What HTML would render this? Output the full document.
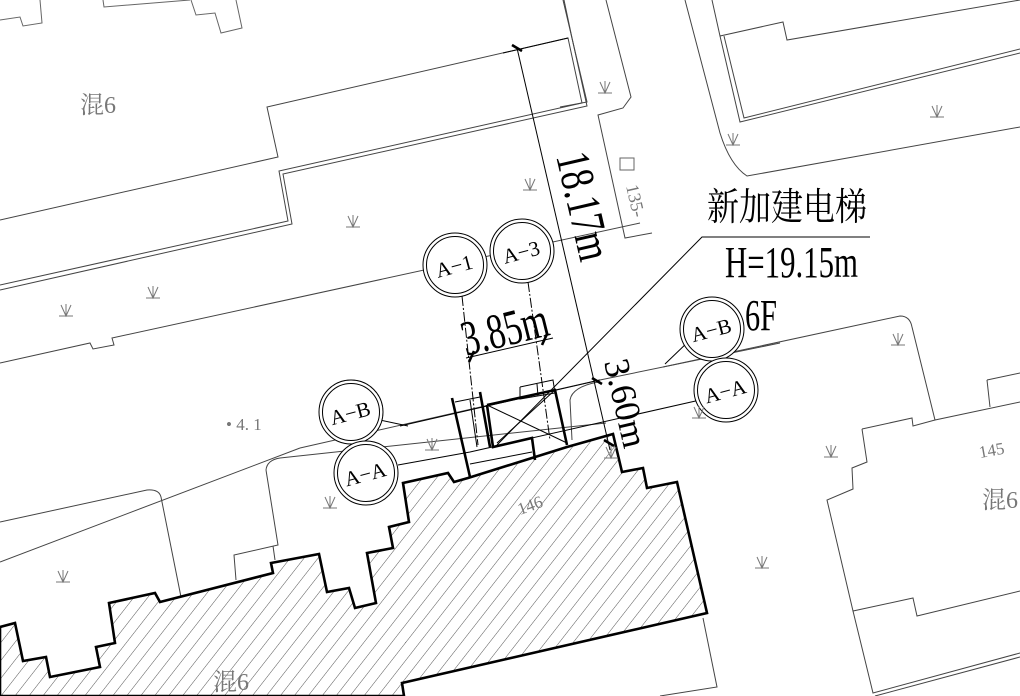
<!DOCTYPE html>
<html><head><meta charset="utf-8"><style>
html,body{margin:0;padding:0;background:#fff;}
svg{display:block;}
.t{fill:none;stroke:#444;stroke-width:1;}
.g{fill:none;stroke:#666;stroke-width:1;}
.k{fill:none;stroke:#000;stroke-width:1;}
.K{fill:none;stroke:#000;stroke-width:2.6;}
text{font-family:"Liberation Serif","Noto Serif CJK SC",serif;}
</style></head><body>
<svg width="1020" height="696" viewBox="0 0 1020 696" xmlns="http://www.w3.org/2000/svg">
<defs>
<pattern id="h" patternUnits="userSpaceOnUse" width="11" height="11" patternTransform="rotate(38)">
<line x1="0" y1="0" x2="0" y2="11" stroke="#555" stroke-width="1"/>
</pattern>
<g id="gr"><path d="M-5,-6 L0,5 L5,-6 M0,-7 L0,5 M-7,5 L7,5" fill="none" stroke="#777" stroke-width="1"/></g>
</defs>

<polyline class="g" points="0,20 20,17 23,26 42,23 40,0"/>
<polyline class="g" points="103,0 104,7 190,0"/>
<polyline class="g" points="191,0 196,15 215,13 221,33 242,28 236,0"/>
<polyline class="t" points="0,220 278,157 267,107 568,38 582,103 279,171 288,221 0,285"/>
<polyline class="t" points="0,290 292,224 283,174 587,106 572,38"/>
<polyline class="t" points="564,0 572,38"/>
<polyline class="t" points="0,363 90,343 93,349 114,345 112,338 640,223"/>
<polyline class="t" points="606,0 631,97 623,108 598,115 625,238 652,233"/>
<polyline class="t" points="563,0 587,102 560,107"/>
<rect x="620" y="158" width="14" height="12" class="g"/>
<text x="0" y="0" font-size="18" fill="#777" transform="translate(626,186) rotate(77)">135-</text>
<path class="t" d="M685,0 L720,133 Q730,165 747,176 L1020,127"/>
<polyline class="t" points="712,0 720,36 783,22 787,40 1020,0"/>
<polyline class="t" points="720,36 740,122 1020,53"/>
<polyline class="t" points="724,36 744,118 1020,49"/>
<path class="t" d="M663,367 L900,316 Q910,316 912,327 L935,420 L1020,402"/>
<polyline class="t" points="987,380 990,407"/>
<polyline class="t" points="987,380 1020,373"/>
<polyline class="t" points="862,429 912,418 913,426 935,420"/>
<polyline class="t" points="862,429 867,462 852,468 853,489 827,500 853,611 913,598 917,616 1020,591"/>
<polyline class="t" points="1020,653 873,693 853,611"/>
<polyline class="t" points="1020,657 875,696"/>
<polyline class="t" points="703,618 717,687 660,696"/>
<path class="t" d="M0,522 L147,490 Q159,489 161,497 L181,597"/>
<path class="t" d="M266,470 Q267,460 280,458 L606,423"/>
<polyline class="t" points="266,470 278,545 234,555 236,580"/>
<polyline class="t" points="273,546 275,560"/>
<polyline class="t" points="300,448 595,381 780,343"/>
<polyline class="t" points="0,562 300,448"/>
<path class="t" d="M598,382 Q572,387 570,400 L572,440"/>

<polygon points="0,627 15,623 23,661 46,657 50,677 100,667 96,647 115,643 109,603 155,593 160,602 273,573 271,563 319,554 327,592 349,588 355,608 376,603 367,553 393,548 389,527 409,522 403,483 448,473 454,482 468,478 567,447 613,434 622,472 643,468 647,488 677,482 707,613 402,683 404,696 0,696" fill="url(#h)" stroke="#000" stroke-width="2.6"/>

<polyline class="K" points="487,405 555,390 567,445"/>
<polyline class="K" points="487,405 493,447 532,438 535,460"/>
<line class="k" x1="487" y1="405" x2="567" y2="443"/>
<line class="k" x1="497" y1="443" x2="555" y2="390"/>
<line class="K" x1="452" y1="398" x2="470" y2="477"/>
<line class="K" x1="480" y1="392" x2="490" y2="447"/>
<polyline class="k" points="455,402 480,397"/>
<line class="k" x1="470" y1="400" x2="477" y2="447"/>
<polyline class="k" points="520,387 553,380 555,393 520,399 520,387"/>
<line class="k" x1="537" y1="384" x2="538" y2="396"/>
<polyline class="k" points="470,464 532,452"/>
<polyline class="k" points="400,426 600,380"/>
<polyline class="k" points="398,465 470,452 700,400"/>

<line class="k" x1="517" y1="48" x2="610" y2="450"/>
<line class="k" x1="503" y1="53" x2="568" y2="38"/>
<line class="K" x1="512" y1="45" x2="522" y2="51"/>
<line class="K" x1="592" y1="378" x2="602" y2="384"/>
<line class="K" x1="604" y1="440" x2="614" y2="446"/>
<line class="k" x1="462" y1="296" x2="478" y2="445" stroke-dasharray="10,2,2,2"/>
<line class="k" x1="528" y1="282" x2="550" y2="440" stroke-dasharray="10,2,2,2"/>
<line class="k" x1="466" y1="358" x2="553" y2="338"/>
<line class="K" x1="469" y1="362" x2="474" y2="351"/>
<line class="K" x1="542" y1="345" x2="547" y2="334"/>
<polyline class="k" points="497,445 702,237 870,237"/>
<polyline class="k" points="380,420 408,426"/>
<polyline class="k" points="665,364 690,340"/>

<g fill="#fff" stroke="#000" stroke-width="1">
<circle cx="455" cy="265" r="32"/><circle cx="455" cy="265" r="28.5"/>
<circle cx="522" cy="251" r="32"/><circle cx="522" cy="251" r="28.5"/>
<circle cx="351" cy="412" r="32"/><circle cx="351" cy="412" r="28.5"/>
<circle cx="366" cy="473" r="32"/><circle cx="366" cy="473" r="28.5"/>
<circle cx="712" cy="329" r="32"/><circle cx="712" cy="329" r="28.5"/>
<circle cx="726" cy="390" r="32"/><circle cx="726" cy="390" r="28.5"/>
</g>
<g font-size="21" fill="#000" text-anchor="middle">
<text transform="translate(456,273) rotate(-15)">A−1</text>
<text transform="translate(523,259) rotate(-15)">A−3</text>
<text transform="translate(352,420) rotate(-15)">A−B</text>
<text transform="translate(367,481) rotate(-15)">A−A</text>
<text transform="translate(713,337) rotate(-15)">A−B</text>
<text transform="translate(727,398) rotate(-15)">A−A</text>
</g>

<text x="707" y="220" font-size="38" textLength="160" lengthAdjust="spacingAndGlyphs">新加建电梯</text>
<text x="725" y="277" font-size="44" textLength="133" lengthAdjust="spacingAndGlyphs">H=19.15m</text>
<text x="745" y="330" font-size="44" textLength="32" lengthAdjust="spacingAndGlyphs">6F</text>
<text transform="translate(556,156) rotate(77)" font-size="48" textLength="110" lengthAdjust="spacingAndGlyphs">18.17m</text>
<text transform="translate(466,356) rotate(-14)" font-size="50" textLength="88" lengthAdjust="spacingAndGlyphs">3.85m</text>
<text transform="translate(604,362) rotate(77)" font-size="36" textLength="90" lengthAdjust="spacingAndGlyphs">3.60m</text>
<g fill="#777">
<text x="80" y="113" font-size="24">混6</text>
<text x="213" y="690" font-size="24">混6</text>
<text x="982" y="508" font-size="24">混6</text>
<text transform="translate(980,458) rotate(-10)" font-size="17" font-family="'Liberation Sans',sans-serif">145</text>
<text transform="translate(520,515) rotate(-20)" font-size="17" font-family="'Liberation Sans',sans-serif">146</text>
<text x="226" y="430" font-size="17">• 4. 1</text>
</g>

<use href="#gr" x="605" y="88"/><use href="#gr" x="733" y="140"/><use href="#gr" x="937" y="112"/>
<use href="#gr" x="353" y="222"/><use href="#gr" x="530" y="185"/><use href="#gr" x="153" y="293"/>
<use href="#gr" x="66" y="311"/><use href="#gr" x="898" y="340"/><use href="#gr" x="432" y="445"/>
<use href="#gr" x="330" y="503"/><use href="#gr" x="831" y="452"/><use href="#gr" x="762" y="563"/>
<use href="#gr" x="63" y="577"/><use href="#gr" x="699" y="413"/><use href="#gr" x="611" y="453"/>
</svg>
</body></html>
